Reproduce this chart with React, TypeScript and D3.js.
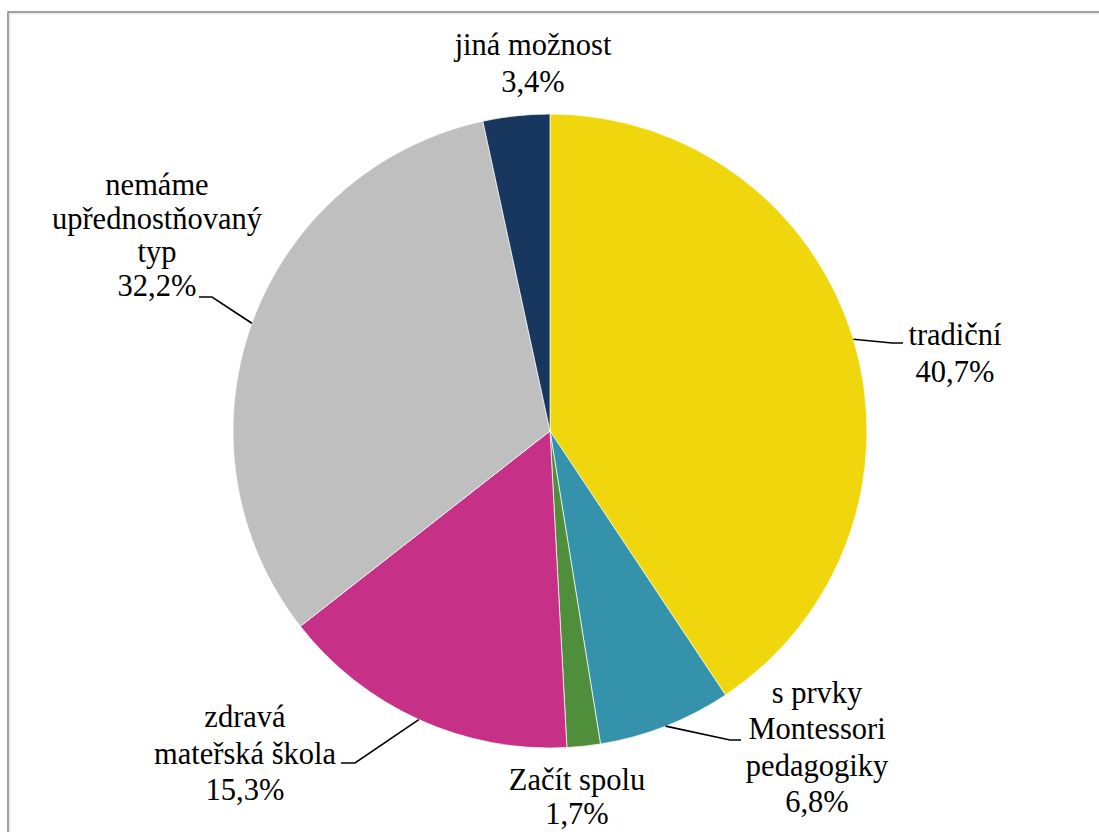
import React from "react";
import * as d3 from "d3";

const categories = ["tradiční", "s prvky Montessori pedagogiky", "Začít spolu", "zdravá mateřská škola", "nemáme upřednostňovaný typ", "jiná možnost"];
const values = [40.7, 6.8, 1.7, 15.3, 32.2, 3.4];
const valueLabels = ["40,7%", "6,8%", "1,7%", "15,3%", "32,2%", "3,4%"];
const labelLines = [
  ["tradiční"],
  ["s prvky", "Montessori", "pedagogiky"],
  ["Začít spolu"],
  ["zdravá", "mateřská škola"],
  ["nemáme", "upřednostňovaný", "typ"],
  ["jiná možnost"],
];
const colors = ["#F0D60C", "#3592AB", "#4F8F3B", "#C73087", "#BFBFBF", "#17375E"];

// label layout: text centre x, first baseline y, line height, leader elbow + end
const layout = [
  { x: 955, y: 345, lh: 37, leader: [[892, 343], [903, 343]] },
  { x: 817, y: 703, lh: 36.3, leader: [[730, 740], [741, 740]] },
  { x: 577, y: 790, lh: 34, leader: null },
  { x: 245, y: 727, lh: 36.5, leader: [[355, 763], [341, 763]] },
  { x: 157, y: 195, lh: 33.7, leader: [[212, 297], [199, 297]] },
  { x: 533, y: 55, lh: 37, leader: null },
];

const FONT = "Times New Roman, Liberation Serif, Tinos, Nimbus Roman, DejaVu Serif, serif";

export default function App() {
  const W = 1099, H = 832;
  const cx = 550, cy = 431, r = 317;
  const pie = d3.pie<number>().sort(null).value((d) => d)(values);
  const arc = d3.arc<d3.PieArcDatum<number>>().innerRadius(0).outerRadius(r);
  return (
    <svg width={W} height={H} style={{ position: "absolute", left: 0, top: 0, background: "#fff" }}>
      <rect x={8} y={12} width={1300} height={1000} fill="#fff" stroke="#8a8a8a" strokeWidth={1.6} />
      <path d={`M9.8,1000 L9.8,13.8 L1300,13.8`} fill="none" stroke="#e2e2e2" strokeWidth={1} />
      <g transform={`translate(${cx},${cy})`}>
        {pie.map((p, i) => (
          <path key={categories[i]} d={arc(p) || ""} fill={colors[i]} stroke="#fff" strokeWidth={0.7} />
        ))}
      </g>
      {pie.map((p, i) => {
        const L = layout[i];
        const mid = (p.startAngle + p.endAngle) / 2;
        const ex = cx + r * Math.sin(mid);
        const ey = cy - r * Math.cos(mid);
        const lines = [...labelLines[i], valueLabels[i]];
        return (
          <g key={"l" + i}>
            {L.leader && (
              <polyline
                points={[[ex, ey], ...L.leader].map((q) => q.join(",")).join(" ")}
                fill="none"
                stroke="#000"
                strokeWidth={1.6}
              />
            )}
            <text
              x={L.x}
              y={L.y}
              textAnchor="middle"
              style={{ fontFamily: FONT, fontSize: "30.5px" }}
              fill="#000"
            >
              {lines.map((t, j) => (
                <tspan key={j} x={L.x} y={L.y + j * L.lh}>
                  {t}
                </tspan>
              ))}
            </text>
          </g>
        );
      })}
    </svg>
  );
}
